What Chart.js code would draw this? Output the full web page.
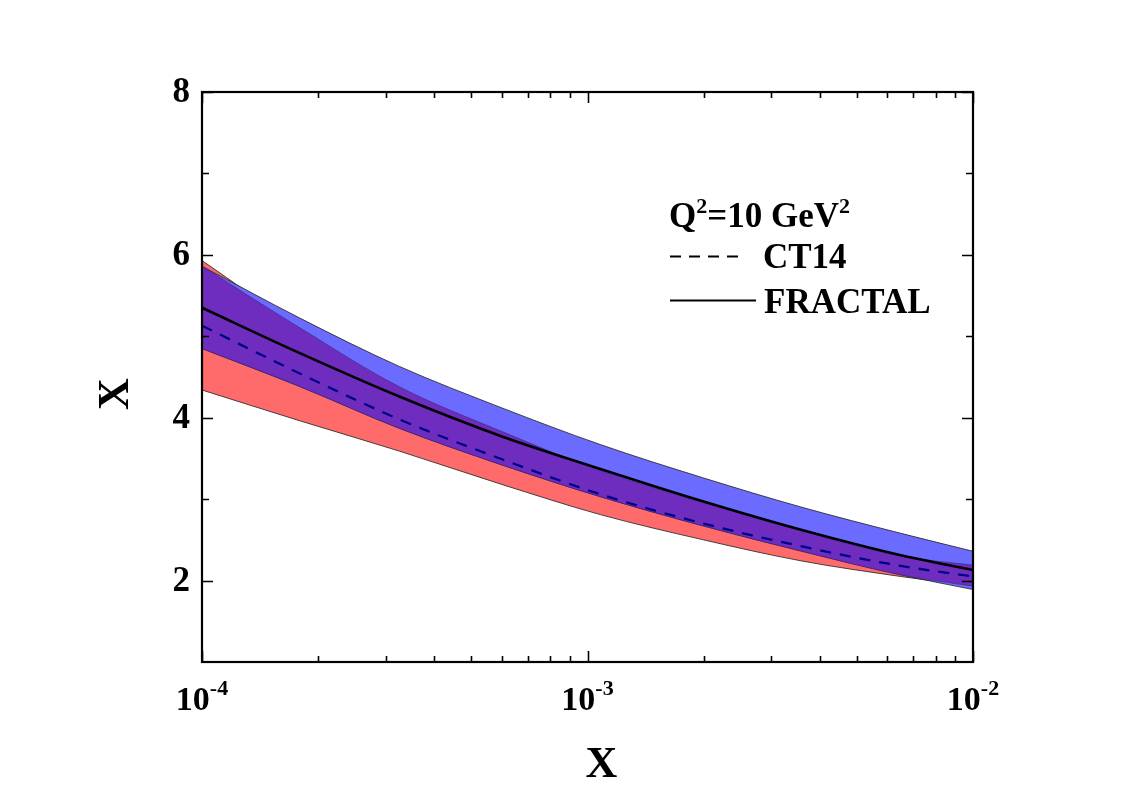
<!DOCTYPE html>
<html><head><meta charset="utf-8">
<script src="https://cdn.jsdelivr.net/npm/chart.js@4"></script>
<style>html,body{margin:0;padding:0;background:#fff;} #wrap{width:1131px;height:795px;position:relative}</style>
</head><body><div id="wrap"><canvas id="c" width="1131" height="795"></canvas></div>
<script>
// ---- data ----
const xValues   = [1e-4, 1.8e-4, 3.25e-4, 6e-4, 1.08e-3, 2e-3, 3.6e-3, 6.5e-3, 1e-2];
const redUpper  = [5.93, 5.10, 4.38, 3.83, 3.35, 2.96, 2.61, 2.30, 2.19];
const redLower  = [4.34, 3.96, 3.59, 3.18, 2.81, 2.50, 2.24, 2.05, 1.93];
const blueUpper = [5.86, 5.22, 4.63, 4.12, 3.67, 3.26, 2.90, 2.58, 2.36];
const blueLower = [4.85, 4.38, 3.87, 3.42, 3.03, 2.67, 2.36, 2.07, 1.89];
const fractal   = [5.35, 4.79, 4.26, 3.77, 3.37, 2.97, 2.62, 2.31, 2.13];
const ct14      = [5.13, 4.54, 3.98, 3.49, 3.06, 2.70, 2.42, 2.18, 2.05];
const yTickLabels = [2, 4, 6, 8];
const yMinorTicks = [3, 5, 7];
const xTickExps   = [-4, -3, -2];
const legendTitle = ['Q', '2', '=10 GeV', '2'];
const legendNames = ['CT14', 'FRACTAL'];

const RED = '#FF6A6A', BLUE = '#6B6BFF', PURPLE = '#6E2DBE';
const FONT = '"Liberation Serif", "Times New Roman", serif';

const overlapUpper = redUpper.map((v, i) => Math.min(v, blueUpper[i]));
const overlapLower = redLower.map((v, i) => Math.max(v, blueLower[i]));
const pts = arr => xValues.map((x, i) => ({x: x, y: arr[i]}));

function band(arr, fill, bg, border, bw, order) {
  return {data: pts(arr), fill: fill, backgroundColor: bg, borderColor: border, borderWidth: bw,
          pointRadius: 0, cubicInterpolationMode: 'monotone', order: order};
}

const decor = {
  id: 'decor',
  afterDraw(chart) {
    const {ctx, chartArea: a, scales: {x, y}} = chart;
    ctx.save();
    ctx.strokeStyle = '#000';
    ctx.lineWidth = 1.6;
    ctx.beginPath();
    yTickLabels.forEach(v => {
      const py = Math.round(y.getPixelForValue(v)) + 0.5;
      ctx.moveTo(a.left, py); ctx.lineTo(a.left + 11, py);
      ctx.moveTo(a.right, py); ctx.lineTo(a.right - 11, py);
    });
    yMinorTicks.forEach(v => {
      const py = Math.round(y.getPixelForValue(v)) + 0.5;
      ctx.moveTo(a.left, py); ctx.lineTo(a.left + 7, py);
      ctx.moveTo(a.right, py); ctx.lineTo(a.right - 7, py);
    });
    xTickExps.forEach(e => {
      const px = Math.round(x.getPixelForValue(Math.pow(10, e))) + 0.5;
      ctx.moveTo(px, a.bottom); ctx.lineTo(px, a.bottom - 11);
      ctx.moveTo(px, a.top); ctx.lineTo(px, a.top + 11);
    });
    for (let e = -4; e < -2; e++) {
      for (let m = 2; m <= 9; m++) {
        const px = Math.round(x.getPixelForValue(m * Math.pow(10, e))) + 0.5;
        ctx.moveTo(px, a.bottom); ctx.lineTo(px, a.bottom - 6);
        ctx.moveTo(px, a.top); ctx.lineTo(px, a.top + 6);
      }
    }
    ctx.stroke();
    ctx.lineWidth = 2.2;
    ctx.strokeRect(a.left, a.top, a.right - a.left, a.bottom - a.top);

    ctx.fillStyle = '#000';
    // y tick labels
    ctx.font = 'bold 35px ' + FONT;
    ctx.textAlign = 'right'; ctx.textBaseline = 'middle';
    yTickLabels.forEach(v => ctx.fillText(String(v), a.left - 12, y.getPixelForValue(v) + 1));
    // x tick labels with superscripts
    ctx.textAlign = 'left'; ctx.textBaseline = 'alphabetic';
    xTickExps.forEach(e => {
      const px = x.getPixelForValue(Math.pow(10, e));
      ctx.font = 'bold 34px ' + FONT;
      const w1 = ctx.measureText('10').width;
      ctx.font = 'bold 22px ' + FONT;
      const sup = String(e);
      const w2 = ctx.measureText(sup).width;
      const x0 = px - (w1 + w2) / 2;
      ctx.font = 'bold 34px ' + FONT;
      ctx.fillText('10', x0, 710);
      ctx.font = 'bold 22px ' + FONT;
      ctx.fillText(sup, x0 + w1, 695);
    });
    // axis titles
    ctx.font = 'bold 44px ' + FONT;
    ctx.textAlign = 'center';
    ctx.fillText('X', (a.left + a.right) / 2 + 14, 777);
    ctx.save();
    ctx.translate(128, 394);
    ctx.rotate(-Math.PI / 2);
    ctx.fillText('X', 0, 0);
    ctx.restore();

    // legend
    ctx.textAlign = 'left';
    let lx = 669;
    legendTitle.forEach((t, i) => {
      const isSup = i % 2 === 1;
      ctx.font = (isSup ? 'bold 22px ' : 'bold 35px ') + FONT;
      ctx.fillText(t, lx, isSup ? 213 : 227);
      lx += ctx.measureText(t).width;
    });
    ctx.font = 'bold 35px ' + FONT;
    ctx.fillText(legendNames[0], 763, 268);
    ctx.fillText(legendNames[1], 764, 313);
    ctx.lineWidth = 2;
    ctx.setLineDash([11, 8]);
    ctx.beginPath(); ctx.moveTo(670, 256.5); ctx.lineTo(745, 256.5); ctx.stroke();
    ctx.setLineDash([]);
    ctx.lineWidth = 2.2;
    ctx.beginPath(); ctx.moveTo(670, 300.5); ctx.lineTo(756, 300.5); ctx.stroke();
    ctx.restore();
  }
};

new Chart(document.getElementById('c'), {
  type: 'line',
  data: {
    datasets: [
      band(redUpper, '+1', RED, 'rgba(40,40,40,0.85)', 1, 12),
      band(redLower, false, RED, 'rgba(40,40,40,0.85)', 1, 11),
      band(blueUpper, '+1', BLUE, 'rgba(40,40,40,0.85)', 1, 10),
      band(blueLower, false, BLUE, 'rgba(40,40,40,0.85)', 1, 9),
      band(overlapUpper, '+1', PURPLE, 'rgba(50,30,120,0.7)', 0.8, 8),
      band(overlapLower, false, PURPLE, 'rgba(50,30,120,0.7)', 0.8, 7),
      {data: pts(ct14), borderColor: '#00008B', borderWidth: 2.3, borderDash: [11, 9],
       pointRadius: 0, cubicInterpolationMode: 'monotone', fill: false, order: 2},
      {data: pts(fractal), borderColor: '#000', borderWidth: 2.6,
       pointRadius: 0, cubicInterpolationMode: 'monotone', fill: false, order: 1}
    ]
  },
  options: {
    responsive: false, animation: false, events: [],
    layout: {padding: {left: 202, right: 158, top: 92, bottom: 133}},
    plugins: {legend: {display: false}, tooltip: {enabled: false}},
    scales: {
      x: {type: 'logarithmic', min: 1e-4, max: 1e-2, display: false},
      y: {type: 'linear', min: 1, max: 8, display: false}
    }
  },
  plugins: [decor]
});
</script></body></html>
